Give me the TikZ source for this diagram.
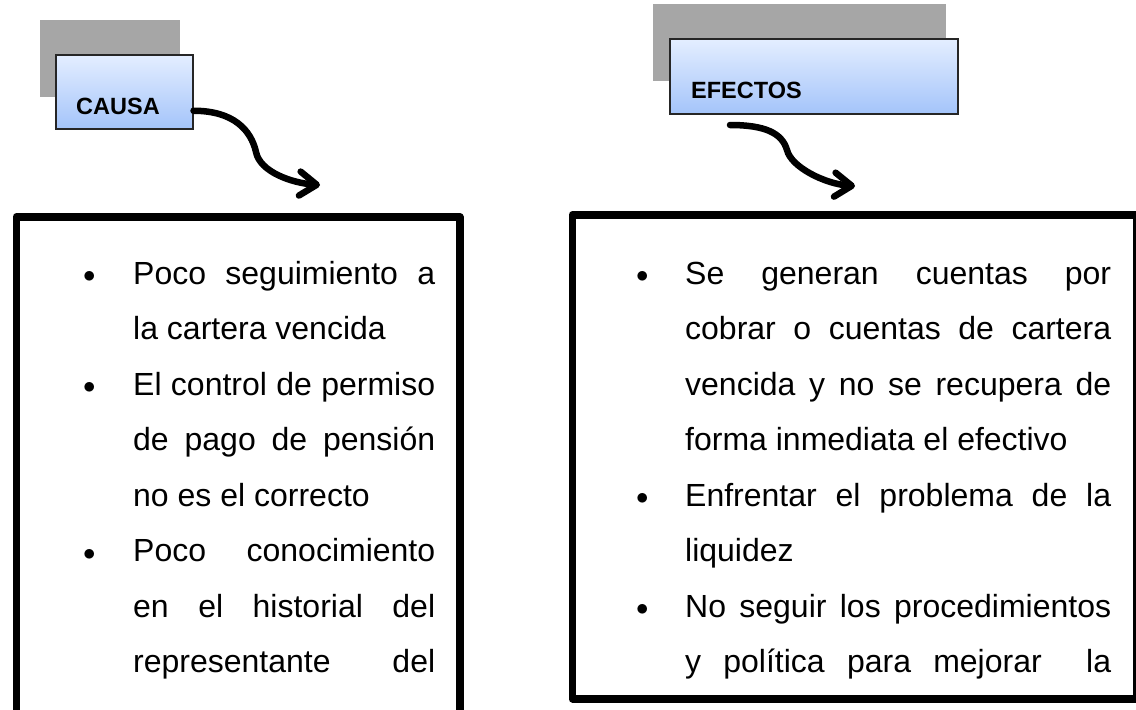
\documentclass[tikz,border=0pt]{standalone}
\usepackage{fontspec}
\setmainfont{Liberation Sans}
\usetikzlibrary{arrows.meta}
\definecolor{shadowgrey}{HTML}{A6A6A6}
\definecolor{headtop}{HTML}{E4EEFF}
\definecolor{headbottom}{HTML}{A4C4FA}
\tikzstyle{shadowbox}=[rectangle,fill=shadowgrey,draw=none,inner sep=0pt,anchor=north west]
\tikzstyle{headbox}=[rectangle,top color=headtop,bottom color=headbottom,draw=black!85,line width=1.5pt,inner sep=0pt,anchor=north west]
\tikzstyle{headtext}=[font=\fontsize{23.5}{28}\selectfont\bfseries,inner sep=0pt,anchor=base west]
\tikzstyle{panel}=[rectangle,draw=black,line width=7.5pt,line join=round,inner sep=0pt,anchor=north west]
\tikzstyle{listtext}=[font=\fontsize{32}{55.5}\selectfont,inner sep=0pt,anchor=base west]
\tikzstyle{flow}=[draw=black,line width=6.5pt,line cap=round,-{Straight Barb[length=17pt,width=24pt,round]}]
\newcommand{\bulletmark}[1]{\noindent\llap{\makebox[#1][l]{\raisebox{1.5pt}{\fontsize{44}{44}\selectfont$\bullet$}}}}
\newcommand{\listsetup}{\tolerance=10000\hyphenpenalty=10000\exhyphenpenalty=10000}

\begin{document}
\begin{tikzpicture}[x=1pt,y=-1pt]
	\useasboundingbox (0,0) rectangle (1136,710);
	\clip (0,0) rectangle (1136,710);
	% headers
	\node [style=shadowbox, minimum width=140pt, minimum height=77pt] (causaShadow) at (40,20) {};
	\node [style=headbox, minimum width=137pt, minimum height=74pt] (causa) at (55,54) {};
	\node [style=headtext] (causaLabel) at (76,114) {CAUSA};
	\node [style=shadowbox, minimum width=293pt, minimum height=77pt] (efectosShadow) at (653,4) {};
	\node [style=headbox, minimum width=288pt, minimum height=75pt] (efectos) at (669,38) {};
	\node [style=headtext] (efectosLabel) at (691,98) {EFECTOS};
	% panels
	\node [style=panel, minimum width=443.5pt, minimum height=500.5pt] (causaPanel) at (12.5,213) {};
	\node [style=panel, minimum width=564pt, minimum height=484pt] (efectosPanel) at (568.5,211) {};
	\node [style=listtext] (causaList) at (133,284) {\parbox[t]{302pt}{\listsetup
		\bulletmark{50pt}Poco seguimiento a\linebreak la cartera vencida\par
		\bulletmark{50pt}El control de permiso\linebreak de pago de pensión\linebreak no es el correcto\par
		\bulletmark{50pt}Poco conocimiento\linebreak en el historial del\linebreak representante del\linebreak}};
	\node [style=listtext] (efectosList) at (685,284) {\parbox[t]{426pt}{\listsetup
		\bulletmark{49pt}Se generan cuentas por\linebreak cobrar o cuentas de cartera\linebreak vencida y no se recupera de\linebreak forma inmediata el efectivo\par
		\bulletmark{49pt}Enfrentar el problema de la\linebreak liquidez\par
		\bulletmark{49pt}No seguir los procedimientos\linebreak y política para mejorar\ \ la\linebreak}};
	% arrows
	\coordinate (causaBend) at (256,152);
	\coordinate (causaTip) at (320,185);
	\coordinate (efectosStart) at (730,125);
	\coordinate (efectosBend) at (787,150);
	\coordinate (efectosTip) at (855,186);
	\draw [style=flow] ([yshift=-19pt]causa.east) .. controls +(40,0) and +(-5,-22) .. (causaBend) .. controls +(4,20) and +(-28,-2) .. (causaTip);
	\draw [style=flow] (efectosStart) .. controls +(35,0) and +(-5,-17) .. (efectosBend) .. controls +(4,17) and +(-30,-2) .. (efectosTip);
\end{tikzpicture}
\end{document}
